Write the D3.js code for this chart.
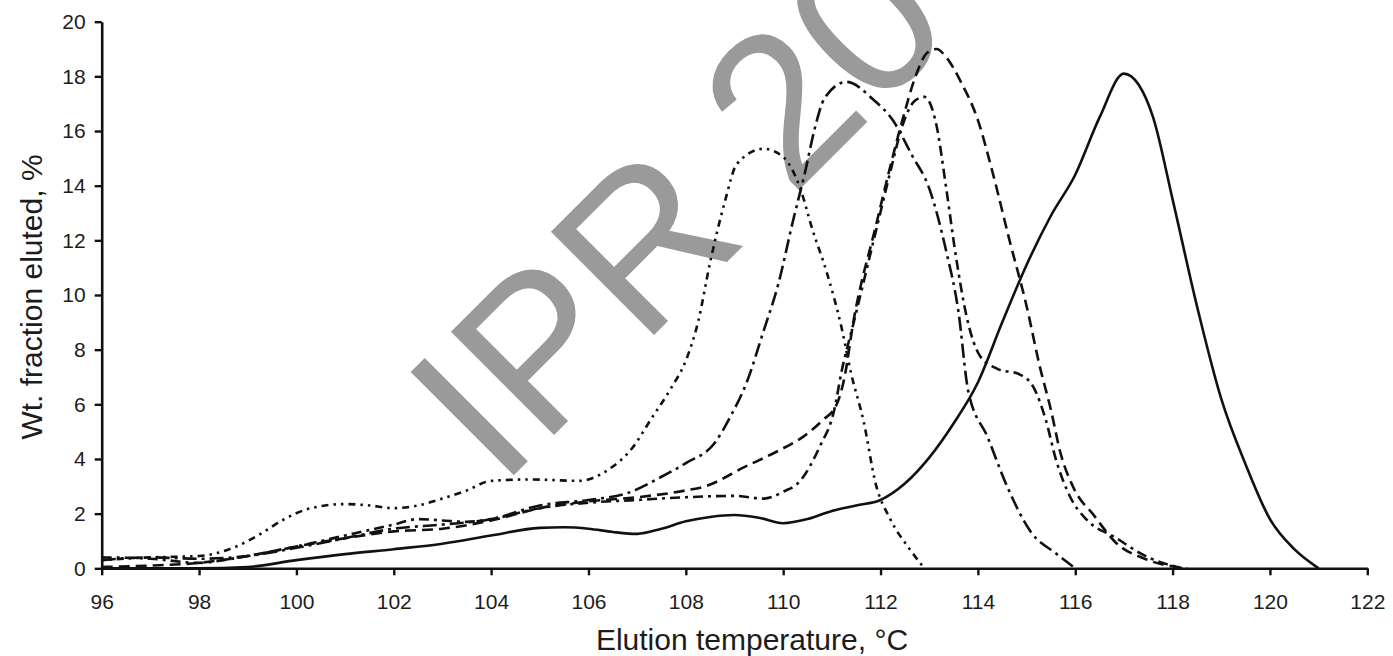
<!DOCTYPE html>
<html>
<head>
<meta charset="utf-8">
<script src="https://cdn.jsdelivr.net/npm/d3@7"></script>
<style>
  html, body { margin: 0; padding: 0; background: #fff; }
  svg { display: block; }
  text { font-family: "Liberation Sans", Arial, sans-serif; fill: #1c1c1c; }
</style>
</head>
<body>
<svg id="chart" width="1393" height="656"></svg>
<script>
// ---- Data (elution temperature °C, wt. fraction eluted %) ----
const xTicks = [96, 98, 100, 102, 104, 106, 108, 110, 112, 114, 116, 118, 120, 122];
const yTicks = [0, 2, 4, 6, 8, 10, 12, 14, 16, 18, 20];
const xLabel = "Elution temperature, °C";
const yLabel = "Wt. fraction eluted, %";
const watermark = "IPR 20";

// dotted curve (peak ~109.6)
const seriesA = [[96,0.3],[97,0.4],[98,0.45],[98.7,0.75],[99.3,1.3],[99.7,1.75],[100.3,2.2],[101,2.35],[101.5,2.3],[102,2.2],[102.5,2.3],[103,2.55],[103.5,2.85],[104,3.2],[104.8,3.25],[105.8,3.2],[106.4,3.6],[106.9,4.4],[107.3,5.5],[107.7,6.6],[108,7.6],[108.25,9],[108.5,11.2],[108.8,13.4],[109.05,14.8],[109.6,15.35],[110,15.05],[110.35,13.9],[110.6,12.4],[110.9,10.8],[111.2,8.8],[111.4,7.1],[111.65,5.4],[111.9,3.1],[112.2,1.8],[112.6,0.7],[112.9,0]];
// long dash-dot curve (peak ~111.3)
const seriesB = [[96,0.3],[97,0.4],[98,0.35],[99,0.45],[100,0.75],[101,1.1],[102,1.45],[103,1.6],[104,1.8],[105,2.3],[106,2.5],[106.8,2.75],[107.5,3.35],[108,3.85],[108.6,4.6],[108.9,5.5],[109.25,6.8],[109.6,8.7],[109.9,10.4],[110.2,12.7],[110.45,14.5],[110.65,16.1],[110.85,17.2],[111.3,17.8],[111.85,17.15],[112.25,16.4],[112.65,15.1],[113,13.9],[113.35,11.6],[113.6,9.4],[113.8,6.5],[114.2,4.8],[114.6,3.0],[115.1,1.3],[115.6,0.55],[116,0]];
// dash-dot curve with shoulder (peak ~112.9)
const seriesC = [[96,0.4],[97,0.35],[98,0.2],[98.5,0.3],[99,0.45],[100,0.8],[101,1.2],[102,1.6],[102.5,1.8],[103,1.75],[103.5,1.7],[104,1.8],[105,2.2],[106,2.4],[107,2.5],[108,2.6],[109,2.65],[109.6,2.55],[110,2.8],[110.35,3.2],[110.75,4.45],[111.05,5.8],[111.2,7.2],[111.45,9.0],[111.9,12.3],[112.2,14.5],[112.45,16.2],[112.7,17.1],[112.9,17.25],[113.15,16.2],[113.35,13.9],[113.55,11.4],[113.77,9.2],[114.05,7.75],[114.4,7.3],[114.85,7.1],[115.15,6.6],[115.4,5.4],[115.6,4.0],[115.9,2.6],[116.25,1.75],[116.8,1.15],[117.5,0.4],[118.2,0]];
// long dash curve (peak ~113.1)
const seriesD = [[96,0.05],[97,0.1],[98,0.2],[99,0.45],[100,0.8],[101,1.1],[102,1.35],[103,1.45],[104,1.75],[105,2.2],[106,2.45],[107,2.6],[108,2.85],[108.4,3.0],[109.2,3.7],[109.9,4.3],[110.4,4.8],[110.8,5.4],[111.1,6.0],[111.25,6.9],[111.45,9.1],[111.9,12.5],[112.2,14.7],[112.45,16.4],[112.7,17.9],[112.95,18.85],[113.15,19.0],[113.35,18.7],[113.65,17.8],[114,16.4],[114.3,14.5],[114.65,12],[115,9.6],[115.27,7.4],[115.5,5.8],[115.7,4.2],[115.95,3.0],[116.4,1.9],[116.8,1.0],[117.5,0.3],[118.3,0]];
// solid curve (peak ~117)
const seriesE = [[96,0],[98,0],[99,0.05],[100,0.3],[101,0.52],[102,0.7],[103,0.9],[104,1.2],[105,1.48],[105.5,1.5],[106,1.45],[106.5,1.33],[107,1.26],[107.5,1.45],[108,1.72],[108.5,1.88],[109,1.95],[109.5,1.85],[110,1.65],[110.5,1.8],[111,2.1],[111.5,2.3],[112,2.5],[112.5,3.1],[113,4.05],[113.5,5.3],[114,6.8],[114.5,9.0],[115,11.1],[115.5,12.9],[116,14.4],[116.5,16.5],[117,18.1],[117.3,17.7],[117.6,16.5],[118,13.5],[118.5,9.6],[119,6.2],[119.5,3.8],[120,1.8],[120.5,0.7],[121,0]];

const seriesList = [
  { name: "A", data: seriesA, dash: "2.5 5 2.5 5 7 5" },
  { name: "B", data: seriesB, dash: "14 5 3 5" },
  { name: "C", data: seriesC, dash: "10 5 3 5" },
  { name: "D", data: seriesD, dash: "11 6" },
  { name: "E", data: seriesE, dash: null }
];

const svg = d3.select("#chart");
const x = d3.scaleLinear().domain([96, 122]).range([101.7, 1367.3]);
const y = d3.scaleLinear().domain([0, 20]).range([568.3, 21.7]);

// watermark (behind the curves)
svg.append("text")
  .attr("transform", "translate(500,489) rotate(-45)")
  .style("font-size", "212px")
  .style("fill", "#9a9a9a")
  .text(watermark);

// curves
const line = d3.line().x(d => x(d[0])).y(d => y(d[1])).curve(d3.curveMonotoneX);
svg.append("g").selectAll("path")
  .data(seriesList)
  .join("path")
  .attr("d", s => line(s.data))
  .attr("fill", "none")
  .attr("stroke", "#111")
  .attr("stroke-width", 2.6)
  .attr("stroke-dasharray", s => s.dash)
  .attr("stroke-linejoin", "round");

// axes
const xAxis = svg.append("g")
  .attr("transform", `translate(0,${y(0)})`)
  .call(d3.axisBottom(x).tickValues(xTicks).tickFormat(d3.format("d")).tickSize(7).tickSizeOuter(0).tickPadding(19));
const yAxis = svg.append("g")
  .attr("transform", `translate(${x(96)},0)`)
  .call(d3.axisLeft(y).tickValues(yTicks).tickFormat(d3.format("d")).tickSize(7).tickSizeOuter(0).tickPadding(9));

[xAxis, yAxis].forEach(g => {
  g.select(".domain").attr("stroke", "#111").attr("stroke-width", 2.6);
  g.selectAll(".tick line").attr("stroke", "#111").attr("stroke-width", 2.4);
  g.selectAll(".tick text").style("font-size", "21px").style("font-family", "'Liberation Sans', Arial, sans-serif").attr("fill", "#1c1c1c");
});

// axis titles
svg.append("text")
  .attr("x", 752).attr("y", 650)
  .attr("text-anchor", "middle")
  .style("font-size", "30px")
  .text(xLabel);
svg.append("text")
  .attr("transform", "translate(42,297) rotate(-90)")
  .attr("text-anchor", "middle")
  .style("font-size", "30px")
  .text(yLabel);
</script>
</body>
</html>
